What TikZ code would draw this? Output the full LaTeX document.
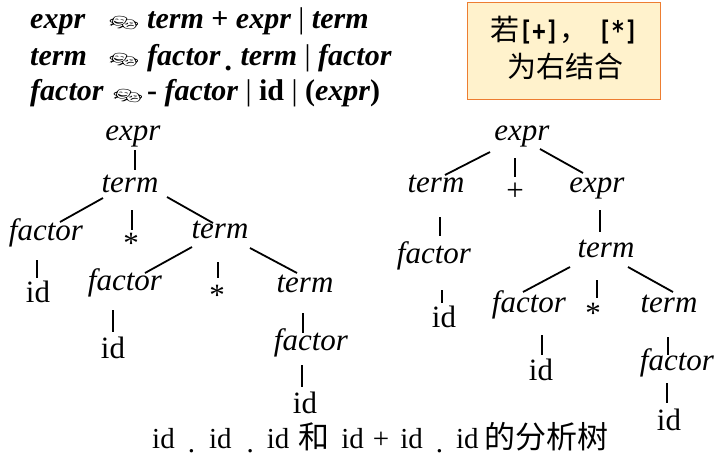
\documentclass[tikz,border=0pt]{standalone}
\usepackage{fontspec}
\usepackage{graphicx}
\setmainfont{Liberation Serif}
\newfontfamily\cjk{Noto Sans CJK SC}
\newfontfamily\emo{Noto Emoji}
\newfontfamily\dvm{DejaVu Sans Mono}
\definecolor{boxfill}{HTML}{FFF2CC}
\definecolor{boxline}{HTML}{ED7D31}
\newcommand\prodbar{{\mdseries\upshape|}}
\newcommand\lowdot[1]{\raisebox{-#1pt}{.}}
\newcommand\brk[1]{\scalebox{0.82}[1]{\dvm\bfseries\fontsize{27}{28}\selectfont#1}}
\newcommand\conn[4]{\draw[edge] ([shift={#2}]#1.base) -- ([shift={#4}]#3.base);}
\begin{document}
\begin{tikzpicture}[x=1pt,y=-1pt,
  tn/.style={inner sep=0pt,anchor=base,font=\fontsize{31}{33}\selectfont\itshape},
  tl/.style={inner sep=0pt,anchor=base,font=\fontsize{31}{33}\selectfont},
  edge/.style={line width=1.8pt},
  prod/.style={inner sep=0pt,anchor=base west,font=\fontsize{30}{32}\selectfont\bfseries\itshape},
  mask/.style={inner sep=0pt,anchor=center,font=\emo\fontsize{22}{22}\selectfont},
  boxtext/.style={inner sep=0pt,anchor=base,font=\cjk\fontsize{29}{30}\selectfont}]
\useasboundingbox (0,0) rectangle (728,466);
% note box
\node[draw=boxline,fill=boxfill,line width=1.3pt,minimum width=193pt,minimum height=97pt,inner sep=0pt,anchor=north west] (box) at (467,2) {};
\node[boxtext] (b1) at (564,40) {若\brk{[+]}，\hspace{10pt}\brk{[*]}};
\node[boxtext] (b2) at (565,77) {为右结合};
% productions
\node[prod] (p1l) at (30,28) {expr};
\node[mask] (p1a) at (124,23) {\scalebox{1.1}[0.6]{🎭}};
\node[prod] (p1r) at (147,28) {term {\upshape+} expr \prodbar{} term};
\node[prod] (p2l) at (30,65) {term};
\node[mask] (p2a) at (124,60) {\scalebox{1.1}[0.6]{🎭}};
\node[prod] (p2r) at (147,65) {factor\,\lowdot{5} term \prodbar{} factor};
\node[prod] (p3l) at (30,100) {factor};
\node[mask] (p3a) at (128,96) {\scalebox{1.1}[0.6]{🎭}};
\node[prod] (p3r) at (147,100) {{\upshape-} factor \prodbar{} {\upshape id} \prodbar{} {\upshape(}expr{\upshape)}};
% left tree
\node[tn] (Le) at (133,140) {expr};
\node[tn] (Lt) at (130,192) {term};
\node[tn] (Lf1) at (46,240) {factor};
\node[tl] (Ls1) at (131,253) {*};
\node[tn] (Lt2) at (220,238) {term};
\node[tl] (Lid1) at (38,302) {id};
\node[tn] (Lf2) at (125,290) {factor};
\node[tl] (Ls2) at (217,305) {*};
\node[tn] (Lt3) at (305,292) {term};
\node[tl] (Lid2) at (113,358) {id};
\node[tn] (Lf3) at (311,350) {factor};
\node[tl] (Lid3) at (305,413) {id};
\conn{Le}{(2,10)}{Lt}{(5,-22)}
\conn{Lt}{(-27,6)}{Lf1}{(14,-18)}
\conn{Lt}{(2,18)}{Ls1}{(1,-23)}
\conn{Lt}{(37,5)}{Lt2}{(-7,-15)}
\conn{Lf1}{(-9,20)}{Lid1}{(-1,-24)}
\conn{Lt2}{(-28,9)}{Lf2}{(20,-17)}
\conn{Lt2}{(-2,24)}{Ls2}{(1,-27)}
\conn{Lt2}{(30,10)}{Lt3}{(-8,-19)}
\conn{Lf2}{(-12,20)}{Lid2}{(0,-26)}
\conn{Lt3}{(-2,21)}{Lf3}{(-8,-17)}
\conn{Lf3}{(-9,15)}{Lid3}{(-3,-26)}
% right tree
\node[tn] (Re) at (522,140) {expr};
\node[tn] (Rt) at (436,192) {term};
\node[tl] (Rp) at (515,200) {+};
\node[tn] (Re2) at (597,192) {expr};
\node[tn] (Rf1) at (434,263) {factor};
\node[tl] (Rid1) at (444,327) {id};
\node[tn] (Rt2) at (606,257) {term};
\node[tn] (Rf2) at (529,312) {factor};
\node[tl] (Rs) at (593,323) {*};
\node[tn] (Rt3) at (669,312) {term};
\node[tl] (Rid2) at (541,380) {id};
\node[tn] (Rf3) at (677,370) {factor};
\node[tl] (Rid3) at (669,430) {id};
\conn{Re}{(-32,12)}{Rt}{(9,-17)}
\conn{Re}{(-7,18)}{Rp}{(0,-23)}
\conn{Re}{(18,9)}{Re2}{(-14,-19)}
\conn{Rt}{(4,25)}{Rf1}{(6,-27)}
\conn{Rf1}{(8,27)}{Rid1}{(-2,-24)}
\conn{Re2}{(3,18)}{Rt2}{(-6,-25)}
\conn{Rt2}{(-36,10)}{Rf2}{(-6,-20)}
\conn{Rt2}{(-9,23)}{Rs}{(4,-25)}
\conn{Rt2}{(22,10)}{Rt3}{(4,-20)}
\conn{Rf2}{(13,23)}{Rid2}{(1,-25)}
\conn{Rt3}{(-1,25)}{Rf3}{(-9,-15)}
\conn{Rf3}{(-10,13)}{Rid3}{(-2,-27)}
% caption
\node[inner sep=0pt,anchor=base west,font=\fontsize{29}{30}\selectfont] (cap) at (152,448) {id\hspace{13pt}\lowdot{4}\hspace{14pt}id\hspace{15pt}\lowdot{4}\hspace{13pt}id\hspace{9pt}{\cjk\fontsize{31}{31}\selectfont 和}\hspace{12pt}id\hspace{9pt}+\hspace{11pt}id\hspace{13pt}\lowdot{4}\hspace{13pt}id\hspace{6pt}{\cjk\fontsize{31}{31}\selectfont 的分析树}};
\end{tikzpicture}
\end{document}
